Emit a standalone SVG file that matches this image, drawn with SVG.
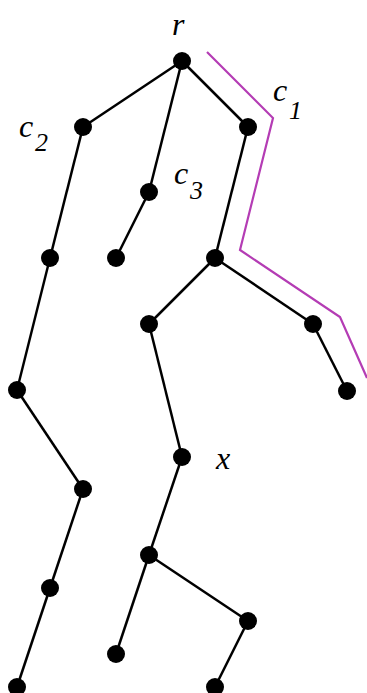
<svg xmlns="http://www.w3.org/2000/svg" width="367" height="693" viewBox="0 0 367 693">
<style>
.e{stroke:#000;stroke-width:2.5;fill:none}
.n{fill:#000}
.t{font-family:'Liberation Serif','Times New Roman',serif;font-style:italic;fill:#000}
.m{font-size:32px}
.s{font-size:26px}
</style>
<rect width="367" height="693" fill="#fff"/>
<g id="path-c1"><polyline points="207,52 273,118 240,250 340,317 367,378" fill="none" stroke="#b43cb4" stroke-width="2.2"/></g>
<g id="edges">
<line class="e" x1="182" y1="61" x2="83" y2="127"/>
<line class="e" x1="182" y1="61" x2="149" y2="192"/>
<line class="e" x1="182" y1="61" x2="248" y2="127"/>
<line class="e" x1="83" y1="127" x2="50" y2="258"/>
<line class="e" x1="50" y1="258" x2="17" y2="390"/>
<line class="e" x1="17" y1="390" x2="83" y2="489"/>
<line class="e" x1="83" y1="489" x2="50" y2="588"/>
<line class="e" x1="50" y1="588" x2="17" y2="687"/>
<line class="e" x1="149" y1="192" x2="116" y2="258"/>
<line class="e" x1="248" y1="127" x2="215" y2="258"/>
<line class="e" x1="215" y1="258" x2="149" y2="324"/>
<line class="e" x1="215" y1="258" x2="313" y2="324"/>
<line class="e" x1="313" y1="324" x2="347" y2="391"/>
<line class="e" x1="149" y1="324" x2="182" y2="457"/>
<line class="e" x1="182" y1="457" x2="149" y2="555"/>
<line class="e" x1="149" y1="555" x2="116" y2="654"/>
<line class="e" x1="149" y1="555" x2="248" y2="621"/>
<line class="e" x1="248" y1="621" x2="215" y2="687"/>
</g>
<g id="r"><circle class="n" cx="182" cy="61" r="9"/><text class="t m" x="172" y="35">r</text></g>
<g id="c2"><circle class="n" cx="83" cy="127" r="9"/><text class="t m" x="19" y="137">c</text><text class="t s" x="35" y="151">2</text></g>
<g id="c3"><circle class="n" cx="149" cy="192" r="9"/><text class="t m" x="174" y="184">c</text><text class="t s" x="190" y="199">3</text></g>
<g id="c1"><circle class="n" cx="248" cy="127" r="9"/><text class="t m" x="273" y="101">c</text><text class="t s" x="289" y="119">1</text></g>
<g id="n5"><circle class="n" cx="50" cy="258" r="9"/></g>
<g id="n6"><circle class="n" cx="116" cy="258" r="9"/></g>
<g id="n7"><circle class="n" cx="215" cy="258" r="9"/></g>
<g id="n8"><circle class="n" cx="149" cy="324" r="9"/></g>
<g id="n9"><circle class="n" cx="313" cy="324" r="9"/></g>
<g id="n10"><circle class="n" cx="347" cy="391" r="9"/></g>
<g id="n11"><circle class="n" cx="17" cy="390" r="9"/></g>
<g id="x"><circle class="n" cx="182" cy="457" r="9"/><text class="t m" x="216" y="469">x</text></g>
<g id="n13"><circle class="n" cx="83" cy="489" r="9"/></g>
<g id="n14"><circle class="n" cx="149" cy="555" r="9"/></g>
<g id="n15"><circle class="n" cx="50" cy="588" r="9"/></g>
<g id="n16"><circle class="n" cx="248" cy="621" r="9"/></g>
<g id="n17"><circle class="n" cx="116" cy="654" r="9"/></g>
<g id="n18"><circle class="n" cx="17" cy="687" r="9"/></g>
<g id="n19"><circle class="n" cx="215" cy="687" r="9"/></g>
</svg>
